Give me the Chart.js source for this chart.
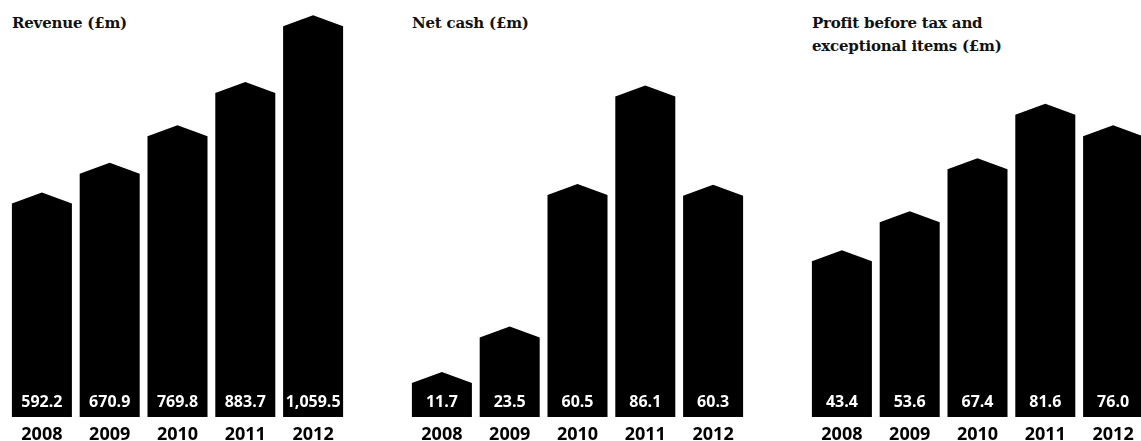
<!DOCTYPE html>
<html>
<head>
<meta charset="utf-8">
<script src="https://cdn.jsdelivr.net/npm/chart.js@4"></script>
<style>
  html, body { margin: 0; padding: 0; background: #fff; overflow: hidden; }
  #wrap { position: relative; width: 1141px; height: 441px; }
  canvas { position: absolute; top: 0; }
  .title {
    position: absolute; top: 12px;
    font-family: "DejaVu Serif", serif; font-weight: bold; font-size: 15px;
    line-height: 23px; color: #111; letter-spacing: -0.2px;
  }
</style>
</head>
<body>
<div id="wrap">
  <div class="title" style="left:12px">Revenue (£m)</div>
  <div class="title" style="left:412px">Net cash (£m)</div>
  <div class="title" style="left:812px">Profit before tax and<br>exceptional items (£m)</div>
  <canvas id="revenue" width="347" height="441" style="left:0px"></canvas>
  <canvas id="netcash" width="347" height="441" style="left:400px"></canvas>
  <canvas id="profit" width="347" height="441" style="left:800px"></canvas>
</div>
<script>
const years = ['2008', '2009', '2010', '2011', '2012'];
const revenue = [592.2, 670.9, 769.8, 883.7, 1059.5];
const netCash = [11.7, 23.5, 60.5, 86.1, 60.3];
const profit = [43.4, 53.6, 67.4, 81.6, 76.0];

const fmt = v => v.toLocaleString('en-GB', { minimumFractionDigits: 1, maximumFractionDigits: 1 });

// draws each bar as a little house (pointed roof) with the value inside
const housePlugin = {
  id: 'house',
  afterDatasetsDraw(chart) {
    const ctx = chart.ctx;
    const meta = chart.getDatasetMeta(0);
    const values = chart.data.datasets[0].data;
    const roof = 11;
    ctx.save();
    meta.data.forEach((bar, i) => {
      const { x, y, base, width } = bar.getProps(['x', 'y', 'base', 'width'], true);
      const l = x - width / 2, r = x + width / 2;
      ctx.beginPath();
      ctx.moveTo(l, base);
      ctx.lineTo(l, y + roof);
      ctx.lineTo(x, y);
      ctx.lineTo(r, y + roof);
      ctx.lineTo(r, base);
      ctx.closePath();
      ctx.fillStyle = '#000';
      ctx.fill();

      ctx.fillStyle = '#fff';
      ctx.font = 'bold 16px "Open Sans", sans-serif';
      ctx.textAlign = 'center';
      ctx.textBaseline = 'middle';
      ctx.fillText(fmt(values[i]), x, base - 15);
    });
    ctx.restore();
  }
};

function makeChart(id, values, max) {
  new Chart(document.getElementById(id), {
    type: 'bar',
    data: {
      labels: years,
      datasets: [{
        data: values,
        backgroundColor: 'rgba(0,0,0,0)',
        barPercentage: 0.885,
        categoryPercentage: 1
      }]
    },
    plugins: [housePlugin],
    options: {
      responsive: false,
      animation: false,
      layout: { padding: { left: 8, right: 0, top: 0, bottom: 0 } },
      plugins: { legend: { display: false }, tooltip: { enabled: false } },
      scales: {
        x: {
          grid: { display: false, drawTicks: false },
          border: { display: false },
          ticks: {
            color: '#000',
            padding: 9,
            font: { family: '"Open Sans", sans-serif', weight: 'bold', size: 18, lineHeight: 1 }
          },
          afterFit: scale => { scale.height = 24; }
        },
        y: {
          display: false,
          min: 0,
          max: max
        }
      }
    }
  });
}

makeChart('revenue', revenue, 1100);
makeChart('netcash', netCash, 108.3);
makeChart('profit', profit, 108.6);
</script>
</body>
</html>
